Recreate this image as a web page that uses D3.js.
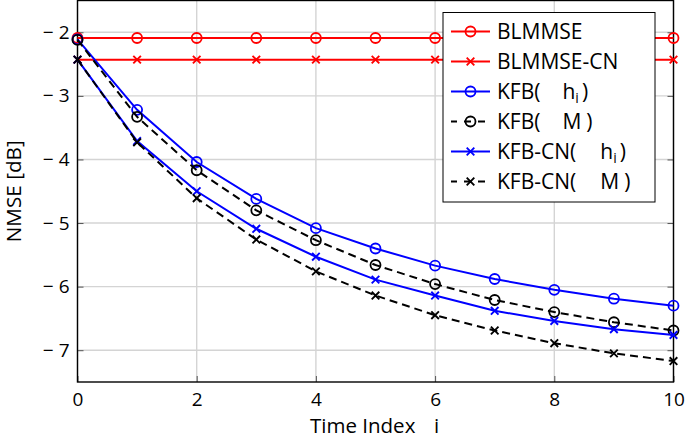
<!DOCTYPE html>
<html>
<head>
<meta charset="utf-8">
<script src="https://cdn.jsdelivr.net/npm/d3@7"></script>
<style>
  body { margin: 0; background: #fff; }
  text { font-family: "Open Sans", sans-serif; fill: #000; }
</style>
</head>
<body>
<svg id="chart" width="685" height="438"></svg>
<script>
// time index
var steps = [0, 1, 2, 3, 4, 5, 6, 7, 8, 9, 10];
// NMSE [dB] per curve
var blmmse   = [-2.09, -2.09, -2.09, -2.09, -2.09, -2.09, -2.09, -2.09, -2.09, -2.09, -2.09];
var blmmseCN = [-2.43, -2.43, -2.43, -2.43, -2.43, -2.43, -2.43, -2.43, -2.43, -2.43, -2.43];
var kfbH     = [-2.11, -3.22, -4.04, -4.62, -5.08, -5.40, -5.67, -5.88, -6.05, -6.19, -6.30];
var kfbM     = [-2.12, -3.33, -4.17, -4.80, -5.27, -5.66, -5.96, -6.21, -6.40, -6.56, -6.69];
var kfbCNH   = [-2.43, -3.71, -4.50, -5.09, -5.53, -5.89, -6.14, -6.38, -6.54, -6.67, -6.76];
var kfbCNM   = [-2.43, -3.73, -4.61, -5.26, -5.76, -6.14, -6.45, -6.69, -6.89, -7.05, -7.17];
// ticks
var xTicks = [0, 2, 4, 6, 8, 10];
var yTicks = [-2, -3, -4, -5, -6, -7];

var series = [
  { name: 'BLMMSE',    values: blmmse,   color: '#ff0000', marker: 'o', dash: null },
  { name: 'BLMMSE-CN', values: blmmseCN, color: '#ff0000', marker: 'x', dash: null },
  { name: 'KFB(h)',    values: kfbH,     color: '#0000ff', marker: 'o', dash: null },
  { name: 'KFB(M)',    values: kfbM,     color: '#000000', marker: 'o', dash: '8,5' },
  { name: 'KFB-CN(h)', values: kfbCNH,   color: '#0000ff', marker: 'x', dash: null },
  { name: 'KFB-CN(M)', values: kfbCNM,   color: '#000000', marker: 'x', dash: '8,5' }
];

var L = 77.5, R = 673.5, T = 0.5, B = 382;
var svg = d3.select('#chart');
var x = d3.scaleLinear().domain([0, 10]).range([L, R]);
var y = d3.scaleLinear().domain([-7.5, -1.5]).range([B, T]);

// grid
var grid = svg.append('g');
grid.selectAll('.gx').data(xTicks).enter().append('line')
  .attr('x1', function(d) { return x(d); }).attr('x2', function(d) { return x(d); })
  .attr('y1', T).attr('y2', B)
  .attr('stroke', '#d4d4d4').attr('stroke-width', 1.4);
grid.selectAll('.gy').data(yTicks).enter().append('line')
  .attr('x1', L).attr('x2', R)
  .attr('y1', function(d) { return y(d); }).attr('y2', function(d) { return y(d); })
  .attr('stroke', '#d4d4d4').attr('stroke-width', 1.4);

// axes (ticks inside)
var fmtY = function(d) { return '\u2212 ' + Math.abs(d); };
svg.append('g').attr('transform', 'translate(0,' + B + ')')
  .call(d3.axisBottom(x).tickValues(xTicks).tickSizeInner(-6).tickSizeOuter(0).tickPadding(11))
  .call(function(g) {
    g.select('.domain').remove();
    g.selectAll('line').attr('stroke', '#555');
    g.selectAll('text').style('font-size', '19px').attr('font-family', '"Open Sans", sans-serif');
  });
svg.append('g').attr('transform', 'translate(' + L + ',0)')
  .call(d3.axisLeft(y).tickValues(yTicks).tickFormat(fmtY).tickSizeInner(-6).tickSizeOuter(0).tickPadding(8))
  .call(function(g) {
    g.select('.domain').remove();
    g.selectAll('line').attr('stroke', '#555');
    g.selectAll('text').style('font-size', '19px').attr('font-family', '"Open Sans", sans-serif');
  });
svg.append('g').attr('transform', 'translate(' + R + ',0)')
  .call(d3.axisRight(y).tickValues(yTicks).tickFormat('').tickSizeInner(-6).tickSizeOuter(0))
  .call(function(g) { g.select('.domain').remove(); g.selectAll('line').attr('stroke', '#555'); });

svg.append('rect').attr('x', L).attr('y', T).attr('width', R - L).attr('height', B - T)
  .attr('fill', 'none').attr('stroke', '#000').attr('stroke-width', 1.4);

// axis labels
svg.append('text').attr('x', 310).attr('y', 433)
  .style('font-size', '20.5px').text('Time Index');
svg.append('text').attr('x', 434).attr('y', 433)
  .style('font-size', '20.5px').text('i');
svg.append('text').attr('transform', 'translate(21,' + ((T + B) / 2) + ') rotate(-90)')
  .attr('text-anchor', 'middle').style('font-size', '20.7px').text('NMSE [dB]');

function drawMarker(g, kind, cx, cy, color) {
  if (kind === 'o') {
    g.append('circle').attr('cx', cx).attr('cy', cy).attr('r', 5)
      .attr('fill', 'none').attr('stroke', color).attr('stroke-width', 1.8);
  } else {
    var s = 3.8;
    g.append('path')
      .attr('d', 'M' + (cx - s) + ',' + (cy - s) + 'L' + (cx + s) + ',' + (cy + s) +
                 'M' + (cx - s) + ',' + (cy + s) + 'L' + (cx + s) + ',' + (cy - s))
      .attr('stroke', color).attr('stroke-width', 1.9).attr('fill', 'none');
  }
}

var line = d3.line()
  .x(function(d, i) { return x(steps[i]); })
  .y(function(d) { return y(d); });

series.forEach(function(s) {
  var g = svg.append('g');
  g.append('path').datum(s.values).attr('d', line)
    .attr('fill', 'none').attr('stroke', s.color).attr('stroke-width', 2)
    .attr('stroke-dasharray', s.dash);
  s.values.forEach(function(v, i) { drawMarker(g, s.marker, x(steps[i]), y(v), s.color); });
});

// legend
var lg = svg.append('g');
lg.append('rect').attr('x', 443).attr('y', 12.5).attr('width', 212).attr('height', 189.5)
  .attr('fill', '#fff').attr('stroke', '#000').attr('stroke-width', 1);
var labels = [
  [{ t: 'BLMMSE' }],
  [{ t: 'BLMMSE-CN' }],
  [{ t: 'KFB(' }, { t: 'h', dx: 22 }, { t: 'i', sub: true }, { t: ')', dx: 3 }],
  [{ t: 'KFB(' }, { t: 'M', dx: 22 }, { t: ')', dx: 5 }],
  [{ t: 'KFB-CN(' }, { t: 'h', dx: 24 }, { t: 'i', sub: true }, { t: ')', dx: 3 }],
  [{ t: 'KFB-CN(' }, { t: 'M', dx: 24 }, { t: ')', dx: 5 }]
];
series.forEach(function(s, i) {
  var cy = 31.5 + i * 30;
  lg.append('line').attr('x1', 451).attr('x2', 490).attr('y1', cy).attr('y2', cy)
    .attr('stroke', s.color).attr('stroke-width', 2)
    .attr('stroke-dasharray', s.dash ? '7,7' : null).attr('stroke-dashoffset', s.dash ? 1 : null);
  drawMarker(lg, s.marker, 470.5, cy, s.color);
  var t = lg.append('text').attr('x', 497).attr('y', cy + 7.5).style('font-size', '21px');
  labels[i].forEach(function(p) {
    var ts = t.append('tspan').text(p.t);
    if (p.dx) ts.attr('dx', p.dx);
    if (p.sub) ts.attr('dy', 4).style('font-size', '14px');
    else if (p.t === ')' && labels[i].some(function(q) { return q.sub; })) ts.attr('dy', -4);
  });
});
</script>
</body>
</html>
